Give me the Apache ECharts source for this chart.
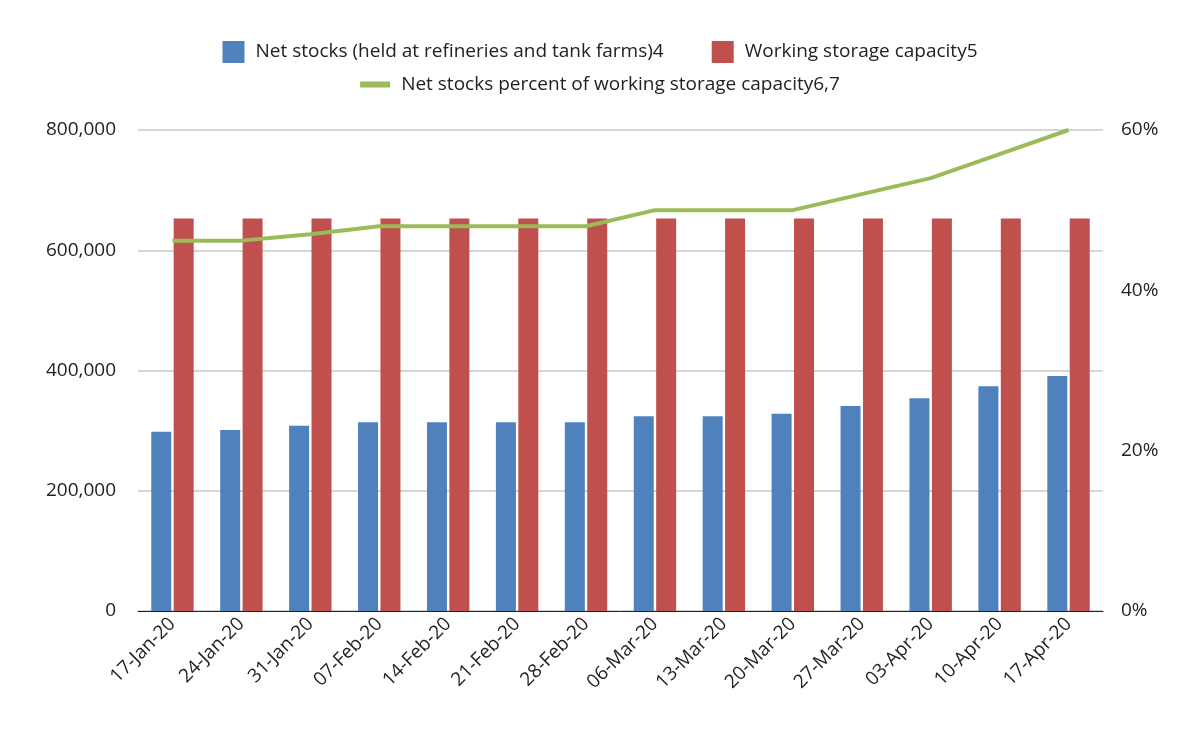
<!DOCTYPE html>
<html><head><meta charset="utf-8">
<script src="https://cdn.jsdelivr.net/npm/echarts@6/dist/echarts.min.js"></script>
<style>html,body{margin:0;padding:0;background:#fff}#c{width:1200px;height:742px}</style>
</head><body><div id="c"></div>
<script>
const categories=['17-Jan-20','24-Jan-20','31-Jan-20','07-Feb-20','14-Feb-20','21-Feb-20','28-Feb-20','06-Mar-20','13-Mar-20','20-Mar-20','27-Mar-20','03-Apr-20','10-Apr-20','17-Apr-20'];
const netStocks=[298000,301000,308000,314000,314000,314000,314000,324000,324000,328000,341000,354000,374000,391000];
const capacity=[653000,653000,653000,653000,653000,653000,653000,653000,653000,653000,653000,653000,653000,653000];
const pct=[46.2,46.2,47,48,48,48,48,50,50,50,52,54,57,60];
const leftTicks=[0,200000,400000,600000,800000];
const rightTicks=[0,20,40,60];
const names=['Net stocks (held at refineries and tank farms)4','Working storage capacity5','Net stocks percent of working storage capacity6,7'];
const font='"Open Sans", "Noto Sans", sans-serif';
const chart=echarts.init(document.getElementById('c'));
chart.setOption({
  textStyle:{fontFamily:font},
  legend:[
    {data:[names[0],names[1]],top:36,left:'center',icon:'rect',itemWidth:22,itemHeight:22,itemGap:48,textStyle:{fontSize:19,color:'#222',fontFamily:font,padding:[0,0,0,6]}},
    {data:[names[2]],top:70,left:'center',itemWidth:30,itemHeight:6,textStyle:{fontSize:19,color:'#222',fontFamily:font,padding:[0,0,0,6]},icon:'rect'}
  ],
  grid:{left:138,right:97,top:130,bottom:131},
  xAxis:{type:'category',data:categories,axisTick:{show:false},
    axisLine:{lineStyle:{color:'#222'}},
    axisLabel:{rotate:45,fontSize:19,color:'#222',margin:10}},
  yAxis:[
    {type:'value',min:0,max:800000,interval:200000,
     axisLabel:{fontSize:19,color:'#222',margin:22,formatter:v=>v.toLocaleString('en-US')},
     splitLine:{lineStyle:{color:'#c8c8c8',width:1.5}}},
    {type:'value',min:0,max:60,interval:20,position:'right',
     axisLabel:{fontSize:19,color:'#222',margin:18,formatter:v=>v+'%'},
     splitLine:{show:false}}
  ],
  series:[
    {name:names[0],type:'bar',data:netStocks,barWidth:20,barGap:'12%',itemStyle:{color:'#4f81bd'}},
    {name:names[1],type:'bar',data:capacity,barWidth:20,itemStyle:{color:'#c0504d'}},
    {name:names[2],type:'line',yAxisIndex:1,data:pct,symbol:'none',lineStyle:{color:'#9bbb59',width:4},itemStyle:{color:'#9bbb59'}}
  ]
});
</script></body></html>
